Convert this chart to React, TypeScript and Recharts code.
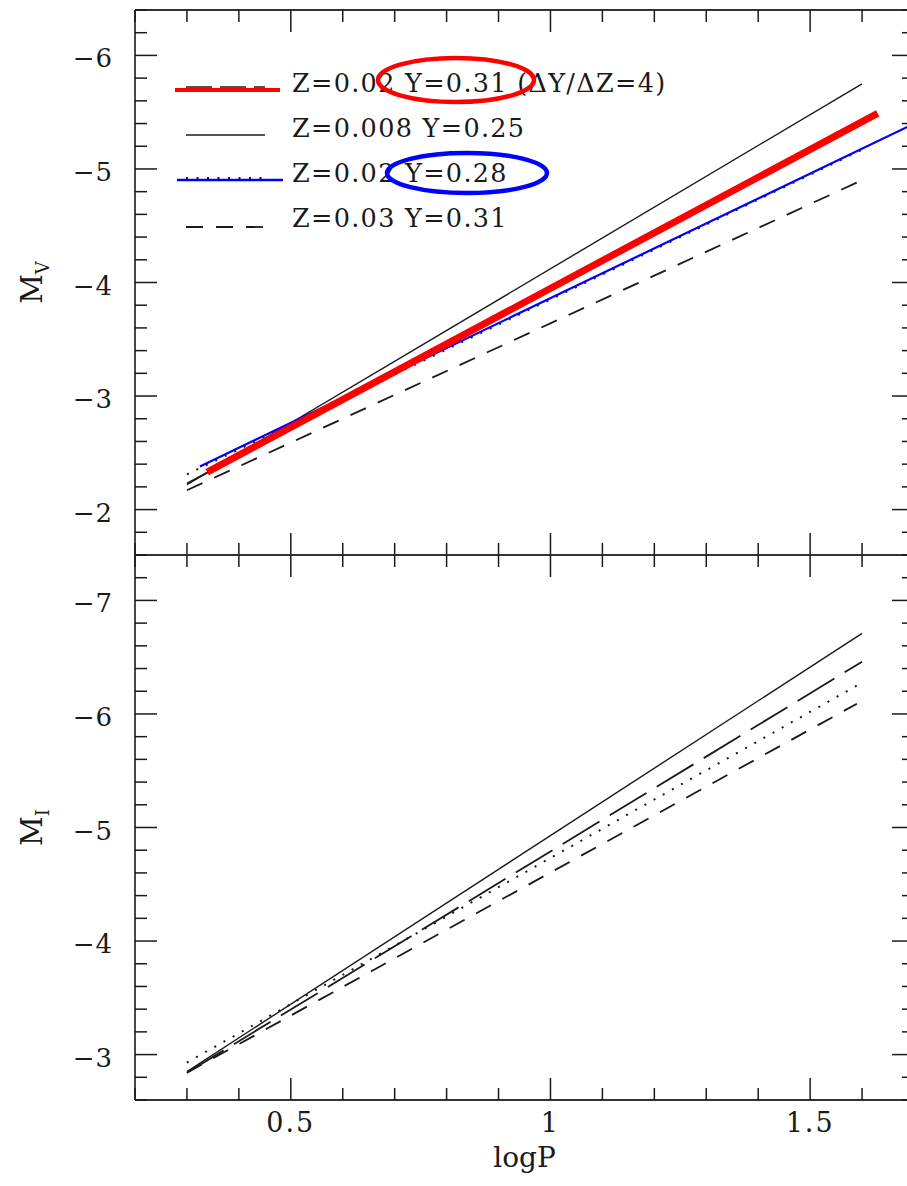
import React from 'react';
import { LineChart, Line, XAxis, YAxis, Legend } from 'recharts';

const FONT = '"DejaVu Serif", "Liberation Serif", serif';
const INK = '#1a1a1a';

// tick positions (major ticks carry the labels)
const LOGP_TICKS = [0.2, 0.3, 0.4, 0.5, 0.6, 0.7, 0.8, 0.9, 1.0, 1.1, 1.2, 1.3, 1.4, 1.5, 1.6, 1.7];
const MV_TICKS = [
  -6.4, -6.2, -6, -5.8, -5.6, -5.4, -5.2, -5, -4.8, -4.6, -4.4, -4.2, -4,
  -3.8, -3.6, -3.4, -3.2, -3, -2.8, -2.6, -2.4, -2.2, -2, -1.8, -1.6,
];
const MI_TICKS = [
  -7.4, -7.2, -7, -6.8, -6.6, -6.4, -6.2, -6, -5.8, -5.6, -5.4, -5.2, -5,
  -4.8, -4.6, -4.4, -4.2, -4, -3.8, -3.6, -3.4, -3.2, -3, -2.8, -2.6,
];

// M_V relations: logP end points and magnitudes at those points
const V_Z008_P = [0.3, 1.6];
const V_Z008_M = [-2.22, -5.75];
const V_Z02Y31_P = [0.3, 1.6];
const V_Z02Y31_M = [-2.23, -5.42];
const V_Z02Y28_P = [0.3, 1.6];
const V_Z02Y28_M = [-2.31, -5.17];
const V_Z03_P = [0.3, 1.59];
const V_Z03_M = [-2.17, -4.88];
// highlighted overlays
const V_RED_P = [0.339, 1.63];
const V_RED_M = [-2.33, -5.49];
const V_BLUE_P = [0.325, 1.687];
const V_BLUE_M = [-2.38, -5.37];

// M_I relations
const I_Z008_P = [0.3, 1.6];
const I_Z008_M = [-2.85, -6.71];
const I_Z02Y31_P = [0.3, 1.6];
const I_Z02Y31_M = [-2.84, -6.46];
const I_Z02Y28_P = [0.3, 1.59];
const I_Z02Y28_M = [-2.93, -6.25];
const I_Z03_P = [0.3, 1.59];
const I_Z03_M = [-2.84, -6.09];

const LEGEND_LABELS = [
  'Z=0.02 Y=0.31 (\u0394Y/\u0394Z=4)',
  'Z=0.008 Y=0.25',
  'Z=0.02 Y=0.28',
  'Z=0.03 Y=0.31',
];

const LONG_DASH = '43 12';
const SHORT_DASH = '17 13';
const DOTS = '2 8.5';

const pts = (p: number[], m: number[]) => p.map((v, i) => ({ p: v, m: m[i] }));

const isHalf = (v: number) => Math.abs(v * 2 - Math.round(v * 2)) < 1e-6;
const isWhole = (v: number) => Math.abs(v - Math.round(v)) < 1e-6;
const fmt = (v: number) => String(Math.round(v * 10) / 10).replace('-', '\u2212');

type Side = 'top' | 'bottom' | 'left' | 'right';

// inward-pointing ticks, labels only on the outer left/bottom edges
function makeTick(side: Side, labelled: boolean, isMajor: (v: number) => boolean) {
  return (props: any) => {
    const { x, y, payload } = props;
    const v = payload.value as number;
    const major = isMajor(v);
    const len = major ? 22 : 12;
    let x2 = x;
    let y2 = y;
    if (side === 'bottom') y2 = y - len;
    if (side === 'top') y2 = y + len;
    if (side === 'left') x2 = x + len;
    if (side === 'right') x2 = x - len;
    return (
      <g>
        <line x1={x} y1={y} x2={x2} y2={y2} stroke={INK} strokeWidth={1.5} />
        {labelled && major && side === 'bottom' && (
          <text x={x} y={y + 32} textAnchor="middle" fontFamily={FONT} fontSize={27} letterSpacing={2} fill={INK}>
            {fmt(v)}
          </text>
        )}
        {labelled && major && side === 'left' && (
          <text x={x - 22} y={y + 12} textAnchor="end" fontFamily={FONT} fontSize={26} letterSpacing={1} fill={INK}>
            {fmt(v)}
          </text>
        )}
      </g>
    );
  };
}

function MagTitle(props: any) {
  const { viewBox, band } = props;
  if (!viewBox) return null;
  const bx = viewBox.x + viewBox.width - 93;
  const cy = viewBox.y + viewBox.height / 2;
  return (
    <text transform={`translate(${bx},${cy}) rotate(-90)`} textAnchor="middle" fontFamily={FONT} fontSize={29} fill={INK}>
      M
      <tspan fontSize={18} dy={7}>
        {band}
      </tspan>
    </text>
  );
}

function LogPTitle(props: any) {
  const { viewBox } = props;
  if (!viewBox) return null;
  return (
    <text x={viewBox.x + viewBox.width / 2} y={viewBox.y + 67} textAnchor="middle" fontFamily={FONT} fontSize={28} fill={INK}>
      logP
    </text>
  );
}

function LegendKey() {
  const rows = [92, 137, 182, 227];
  return (
    <svg width={700} height={250} style={{ display: 'block' }}>
      {/* row 1: long dash underneath the red overlay */}
      <line x1={186} y1={87} x2={265} y2={87} stroke={INK} strokeWidth={1.5} strokeDasharray="26 8" />
      <line x1={175} y1={90} x2={280} y2={90} stroke="#ff0000" strokeWidth={4} />
      <line x1={186} y1={135} x2={265} y2={135} stroke={INK} strokeWidth={1.5} />
      <line x1={186} y1={178} x2={265} y2={178} stroke={INK} strokeWidth={2} strokeDasharray={DOTS} />
      <line x1={177} y1={180} x2={283} y2={180} stroke="#0000ff" strokeWidth={2.5} />
      <line x1={186} y1={227} x2={265} y2={227} stroke={INK} strokeWidth={1.8} strokeDasharray={SHORT_DASH} />
      {LEGEND_LABELS.map((label, i) => (
        <text key={label} x={292} y={rows[i]} fontFamily={FONT} fontSize={25.5} letterSpacing={1.3} fill={INK}>
          {label}
        </text>
      ))}
      <ellipse cx={456} cy={80} rx={78} ry={22} fill="none" stroke="#ff0000" strokeWidth={4.5} />
      <ellipse cx={467} cy={173} rx={80} ry={20} fill="none" stroke="#0000ff" strokeWidth={4.5} />
    </svg>
  );
}

const axisLine = { stroke: '#333', strokeWidth: 1.8 };

export default function App() {
  return (
    <div
      style={{
        position: 'absolute',
        left: 0,
        top: 0,
        width: 907,
        height: 1186,
        overflow: 'hidden',
        background: '#fff',
      }}
    >
      {/* upper panel: M_V */}
      <div style={{ position: 'absolute', left: 0, top: 0 }}>
        <LineChart width={960} height={570} margin={{ top: 9, right: 36, bottom: 14, left: 75 }}>
          <XAxis
            dataKey="p"
            type="number"
            domain={[0.2, 1.7]}
            allowDataOverflow
            ticks={LOGP_TICKS}
            interval={0}
            height={1}
            tickSize={0}
            tickMargin={0}
            tickLine={false}
            axisLine={axisLine}
            tick={makeTick('bottom', false, isHalf)}
          />
          <XAxis
            xAxisId="top"
            orientation="top"
            dataKey="p"
            type="number"
            domain={[0.2, 1.7]}
            allowDataOverflow
            ticks={LOGP_TICKS}
            interval={0}
            height={1}
            tickSize={0}
            tickMargin={0}
            tickLine={false}
            axisLine={axisLine}
            tick={makeTick('top', false, isHalf)}
          />
          <YAxis
            type="number"
            reversed
            domain={[-6.4, -1.6]}
            allowDataOverflow
            ticks={MV_TICKS}
            interval={0}
            width={60}
            tickSize={0}
            tickMargin={0}
            tickLine={false}
            axisLine={axisLine}
            tick={makeTick('left', true, isWhole)}
            label={<MagTitle band="V" />}
          />
          <YAxis
            yAxisId="right"
            orientation="right"
            type="number"
            reversed
            domain={[-6.4, -1.6]}
            allowDataOverflow
            ticks={MV_TICKS}
            interval={0}
            width={10}
            tickSize={0}
            tickMargin={0}
            tickLine={false}
            axisLine={axisLine}
            tick={makeTick('right', false, isWhole)}
          />
          <Legend
            layout="horizontal"
            verticalAlign="middle"
            align="center"
            content={<LegendKey />}
            wrapperStyle={{ left: 0, top: 0, width: 700, height: 250, pointerEvents: 'none' }}
          />
          <Line data={pts(V_Z008_P, V_Z008_M)} dataKey="m" type="linear" stroke={INK} strokeWidth={1.4} dot={false} isAnimationActive={false} legendType="none" />
          <Line data={pts(V_Z02Y31_P, V_Z02Y31_M)} dataKey="m" type="linear" stroke={INK} strokeWidth={1.8} strokeDasharray={LONG_DASH} dot={false} isAnimationActive={false} legendType="none" />
          <Line data={pts(V_Z02Y28_P, V_Z02Y28_M)} dataKey="m" type="linear" stroke={INK} strokeWidth={2} strokeDasharray={DOTS} dot={false} isAnimationActive={false} legendType="none" />
          <Line data={pts(V_Z03_P, V_Z03_M)} dataKey="m" type="linear" stroke={INK} strokeWidth={1.8} strokeDasharray={SHORT_DASH} dot={false} isAnimationActive={false} legendType="none" />
          <Line data={pts(V_BLUE_P, V_BLUE_M)} dataKey="m" type="linear" stroke="#0000ff" strokeWidth={2.2} dot={false} isAnimationActive={false} legendType="none" />
          <Line data={pts(V_RED_P, V_RED_M)} dataKey="m" type="linear" stroke="#ff0000" strokeWidth={7} dot={false} isAnimationActive={false} legendType="none" />
        </LineChart>
      </div>

      {/* lower panel: M_I */}
      <div style={{ position: 'absolute', left: 0, top: 545 }}>
        <LineChart width={960} height={641} margin={{ top: 9, right: 36, bottom: 16, left: 75 }}>
          <XAxis
            dataKey="p"
            type="number"
            domain={[0.2, 1.7]}
            allowDataOverflow
            ticks={LOGP_TICKS}
            interval={0}
            height={70}
            tickSize={0}
            tickMargin={0}
            tickLine={false}
            axisLine={axisLine}
            tick={makeTick('bottom', true, isHalf)}
            label={<LogPTitle />}
          />
          <XAxis
            xAxisId="top"
            orientation="top"
            dataKey="p"
            type="number"
            domain={[0.2, 1.7]}
            allowDataOverflow
            ticks={LOGP_TICKS}
            interval={0}
            height={1}
            tickSize={0}
            tickMargin={0}
            tickLine={false}
            axisLine={axisLine}
            tick={makeTick('top', false, isHalf)}
          />
          <YAxis
            type="number"
            reversed
            domain={[-7.4, -2.6]}
            allowDataOverflow
            ticks={MI_TICKS}
            interval={0}
            width={60}
            tickSize={0}
            tickMargin={0}
            tickLine={false}
            axisLine={axisLine}
            tick={makeTick('left', true, isWhole)}
            label={<MagTitle band="I" />}
          />
          <YAxis
            yAxisId="right"
            orientation="right"
            type="number"
            reversed
            domain={[-7.4, -2.6]}
            allowDataOverflow
            ticks={MI_TICKS}
            interval={0}
            width={10}
            tickSize={0}
            tickMargin={0}
            tickLine={false}
            axisLine={axisLine}
            tick={makeTick('right', false, isWhole)}
          />
          <Line data={pts(I_Z008_P, I_Z008_M)} dataKey="m" type="linear" stroke={INK} strokeWidth={1.4} dot={false} isAnimationActive={false} />
          <Line data={pts(I_Z02Y31_P, I_Z02Y31_M)} dataKey="m" type="linear" stroke={INK} strokeWidth={1.8} strokeDasharray={LONG_DASH} dot={false} isAnimationActive={false} />
          <Line data={pts(I_Z02Y28_P, I_Z02Y28_M)} dataKey="m" type="linear" stroke={INK} strokeWidth={2} strokeDasharray={DOTS} dot={false} isAnimationActive={false} />
          <Line data={pts(I_Z03_P, I_Z03_M)} dataKey="m" type="linear" stroke={INK} strokeWidth={1.8} strokeDasharray={SHORT_DASH} dot={false} isAnimationActive={false} />
        </LineChart>
      </div>
    </div>
  );
}
